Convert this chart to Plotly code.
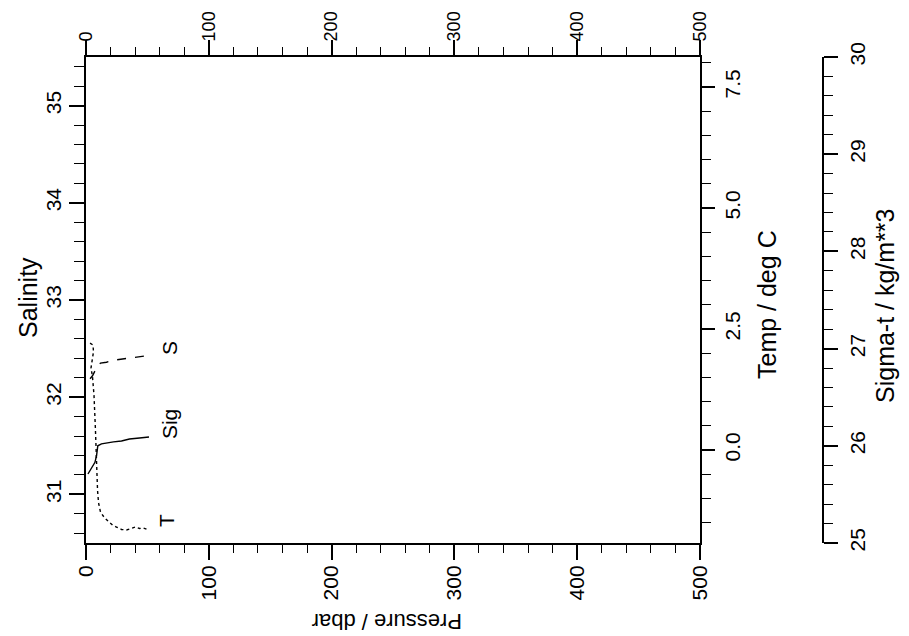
import plotly.graph_objects as go

# ---- data ----
s_pressure = [3.3, 5.3, 7.7, 9.8, 11.8, 16.7, 22.4, 28.9, 35.4, 43.6, 51.7]
salinity = [32.19, 32.22, 32.28, 32.33, 32.35, 32.36, 32.38, 32.39, 32.40, 32.41, 32.43]

sig_pressure = [1.6, 3.7, 5.7, 7.3, 8.6, 9.0, 9.6, 12.6, 16.7, 22.4, 28.9, 35.4, 43.6, 51.3]
sigma_t = [25.71, 25.75, 25.79, 25.83, 25.90, 25.96, 26.00, 26.02, 26.03, 26.04, 26.05, 26.07, 26.08, 26.09]

t_pressure = [3.3, 5.7, 6.1, 4.9, 4.1, 5.3, 6.5, 7.7, 8.6, 9.4, 10.2, 11.8, 15.1, 18.3,
              21.6, 24.8, 28.9, 33.0, 37.1, 40.3, 43.6, 46.8, 50.1]
temperature = [2.21, 2.17, 2.03, 1.86, 1.70, 1.51, 1.14, 0.41, -0.31, -0.83, -1.09, -1.28, -1.40, -1.48,
               -1.55, -1.59, -1.64, -1.65, -1.61, -1.59, -1.62, -1.61, -1.64]

pressure_ticks = [0, 100, 200, 300, 400, 500]
salinity_ticks = [31, 32, 33, 34, 35]
temp_ticks = [0.0, 2.5, 5.0, 7.5]
temp_labels = ["0.0", "2.5", "5.0", "7.5"]
sigma_ticks = [25, 26, 27, 28, 29, 30]

FONT = "Liberation Sans, Arial, Helvetica, sans-serif"
TICKF = dict(family=FONT, size=21, color="black")
TOPTICKF = dict(family=FONT, size=18, color="black")
VTITLEF = dict(family=FONT, size=25, color="black")
HTITLEF = dict(family=FONT, size=22, color="black")

# the page body adds an 8px margin, so the figure starts at (8, 8) in the window
OFF = 8
W, H = 909 - OFF, 636 - OFF
ML, MT = 86 - OFF, 57 - OFF
PW, PH = 744, 486
MR = W - ML - PW
MB = H - MT - PH
xdom_end = 614 / PW

fig = go.Figure()
fig.add_trace(go.Scatter(x=s_pressure, y=salinity, mode="lines", xaxis="x", yaxis="y",
                         line=dict(color="black", width=1.4, dash="dash"), showlegend=False))
fig.add_trace(go.Scatter(x=sig_pressure, y=sigma_t, mode="lines", xaxis="x", yaxis="y3",
                         line=dict(color="black", width=1.4), showlegend=False))
fig.add_trace(go.Scatter(x=t_pressure, y=temperature, mode="lines", xaxis="x", yaxis="y2",
                         line=dict(color="black", width=1.4, dash="dot"), showlegend=False))
# carrier for top pressure axis
fig.add_trace(go.Scatter(x=[pressure_ticks[0]], y=[salinity_ticks[0]], mode="markers", xaxis="x2", yaxis="y",
                         marker=dict(opacity=0), showlegend=False, hoverinfo="skip"))

axis_common = dict(showgrid=False, zeroline=False, showline=True, linecolor="black", linewidth=2,
                   ticks="outside", tickcolor="black", tickwidth=1.5, tickangle=-90,
                   automargin=False)
minor_common = dict(tickcolor="black", tickwidth=1.2, ticks="outside")

fig.update_layout(
    width=W, height=H, margin=dict(l=ML, r=MR, t=MT, b=MB),
    paper_bgcolor="white", plot_bgcolor="white",
    xaxis=dict(domain=[0, xdom_end], range=[0, 500], anchor="y", side="bottom",
               tickvals=pressure_ticks, ticklen=15, tickfont=TICKF, ticklabelstandoff=-3,
               minor=dict(dtick=20, ticklen=8, **minor_common),
               **axis_common),
    xaxis2=dict(domain=[0, xdom_end], range=[0, 500], anchor="y", side="top", overlaying="x",
                tickvals=pressure_ticks, ticklen=15, tickfont=TOPTICKF, ticklabelstandoff=-5,
                minor=dict(dtick=20, ticklen=8, **minor_common),
                **axis_common),
    yaxis=dict(range=[30.5, 35.5], anchor="x", side="left",
               tickvals=salinity_ticks, ticklen=15, tickfont=TICKF,
               minor=dict(dtick=0.2, ticklen=10, **minor_common),
               **axis_common),
    yaxis2=dict(range=[-1.92, 8.12], anchor="x", side="right", overlaying="y",
                tickvals=temp_ticks, ticktext=temp_labels, ticklen=13, tickfont=TICKF, ticklabelstandoff=0,
                minor=dict(dtick=0.5, ticklen=9, **minor_common),
                **axis_common),
    yaxis3=dict(range=[25, 30], anchor="free", position=(823 - 86) / PW, side="right", overlaying="y",
                tickvals=sigma_ticks, ticklen=14, tickfont=TICKF, ticklabelstandoff=2,
                minor=dict(dtick=0.2, ticklen=9, **minor_common),
                **axis_common),
)

def px_x(px):
    return (px - 86) / PW

def px_y(py):
    return (543 - py) / PH

annotations = [
    dict(text="Salinity", x=px_x(28), y=px_y(298), textangle=-90, font=VTITLEF),
    dict(text="Temp / deg C", x=px_x(767), y=px_y(305), textangle=-90, font=VTITLEF),
    dict(text="Sigma-t / kg/m**3", x=px_x(885), y=px_y(306), textangle=-90, font=VTITLEF),
    dict(text="Pressure / dbar", x=px_x(387), y=px_y(622), textangle=180, font=HTITLEF),
]
for a in annotations:
    fig.add_annotation(xref="paper", yref="paper", showarrow=False, xanchor="center", yanchor="middle", **a)

# curve labels anchored to the end of each curve
fig.add_annotation(x=s_pressure[-1], y=salinity[-1], xref="x", yref="y", text="S", textangle=-90,
                   showarrow=False, xshift=20, yshift=8, font=TICKF)
fig.add_annotation(x=sig_pressure[-1], y=sigma_t[-1], xref="x", yref="y3", text="Sig", textangle=-90,
                   showarrow=False, xshift=20, yshift=13, font=TICKF)
fig.add_annotation(x=t_pressure[-1], y=temperature[-1], xref="x", yref="y2", text="T", textangle=-90,
                   showarrow=False, xshift=19, yshift=9, font=TICKF)

fig.write_html("out.html")
